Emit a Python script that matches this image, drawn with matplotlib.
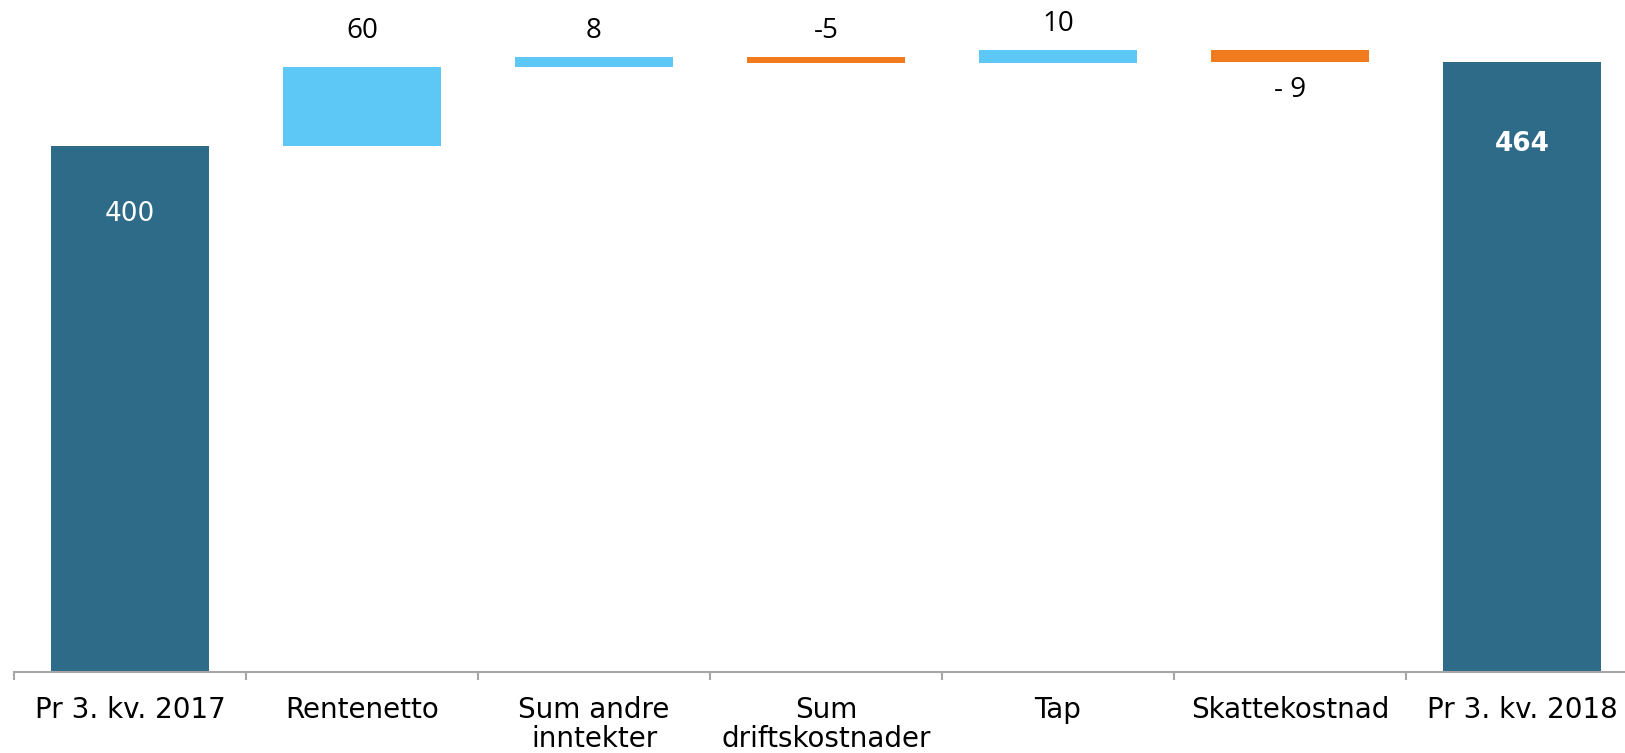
import numpy as np
import matplotlib
matplotlib.use("Agg")
import matplotlib.pyplot as plt

# Data
categories = ["Pr 3. kv. 2017", "Rentenetto", "Sum andre\ninntekter",
              "Sum\ndriftskostnader", "Tap", "Skattekostnad", "Pr 3. kv. 2018"]
start_value = 400
changes = [60, 8, -5, 10, -9]
end_value = 464
labels = ["400", "60", "8", "-5", "10", "- 9", "464"]

DARK = "#2D6B88"
POS = "#5DC8F6"
NEG = "#F07A1E"

# build waterfall bottoms / heights
bottoms, heights, colors = [0], [start_value], [DARK]
level = start_value
for c in changes:
    bottoms.append(level if c >= 0 else level + c)
    heights.append(abs(c))
    colors.append(POS if c >= 0 else NEG)
    level += c
bottoms.append(0)
heights.append(end_value)
colors.append(DARK)

fig = plt.figure(figsize=(16.25, 7.53), dpi=100)
ax = fig.add_axes([14 / 1625, 81 / 753, 1624 / 1625, 672 / 753])

x = np.arange(len(categories))
ax.bar(x, heights, bottom=bottoms, width=0.677, color=colors, linewidth=0)

ax.set_xlim(-0.5, len(categories) - 0.5)
ax.set_ylim(0, 511)

# labels
top_kw = dict(textcoords="offset pixels", ha="center", va="center",
              color="black", fontsize=20, family="Open Sans")
for i in range(len(categories)):
    top = bottoms[i] + heights[i]
    if i == 0:
        ax.annotate(labels[i], (x[i], top), xytext=(0, -68), textcoords="offset pixels",
                    ha="center", va="center", color="white", fontsize=19)
    elif i == len(categories) - 1:
        ax.annotate(labels[i], (x[i], top), xytext=(0, -82), textcoords="offset pixels",
                    ha="center", va="center", color="white", fontsize=19, fontweight="bold")
    elif changes[i - 1] >= 0 or i == 3:
        off = 36 if heights[i] > 30 else 26
        ax.annotate(labels[i], (x[i], top), xytext=(0, off), **top_kw)
    else:
        ax.annotate(labels[i], (x[i], bottoms[i]), xytext=(0, -28), **top_kw)

# axes styling
for s in ["top", "right", "left"]:
    ax.spines[s].set_visible(False)
ax.spines["bottom"].set_color("#A6A6A6")
ax.spines["bottom"].set_linewidth(1.5)
ax.set_yticks([])
ax.set_xticks(x)
ax.set_xticklabels(categories, fontsize=20, linespacing=1.08)
ax.tick_params(axis="x", which="major", length=0, pad=17)
ax.set_xticks(np.arange(-0.5, len(categories)), minor=True)
ax.tick_params(axis="x", which="minor", length=6, width=1.5, color="#A6A6A6")

fig.savefig("out.png", dpi=100, facecolor="white")
